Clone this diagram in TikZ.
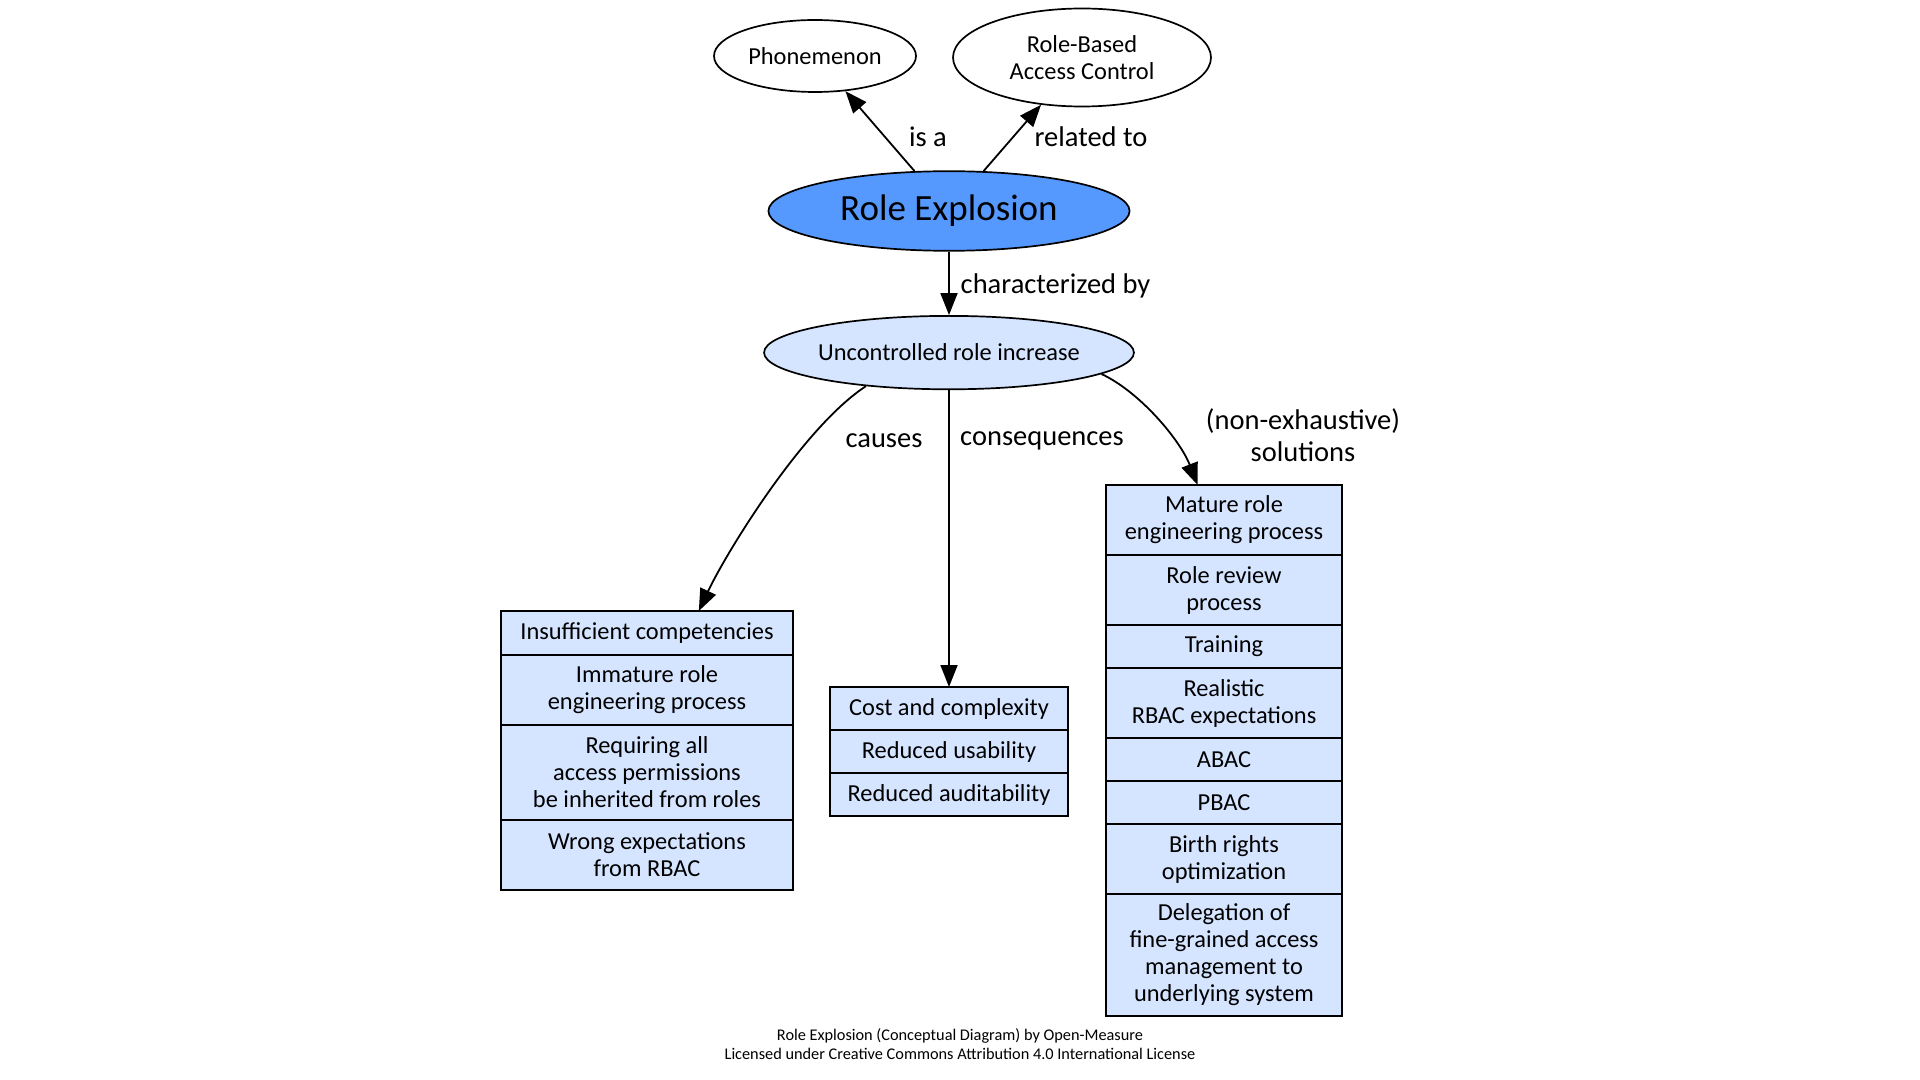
\documentclass[tikz,border=0pt]{standalone}
\usepackage{fontspec}
\setmainfont{Carlito}
\usetikzlibrary{arrows.meta,shapes.geometric}
\definecolor{reblue}{RGB}{85,153,255}
\definecolor{cellblue}{RGB}{213,229,255}
\newcommand\myNodeFont{\fontsize{12.2pt}{13.5pt}\selectfont}
\newcommand\myBigFont{\fontsize{18.5pt}{20pt}\selectfont}
\newcommand\myEdgeFont{\fontsize{14.25pt}{15.9pt}\selectfont}
\newcommand\myCapFont{\fontsize{8.15pt}{9.2pt}\selectfont}
\begin{document}
\begin{tikzpicture}[x=0.5pt,y=-0.5pt,
  oval/.style={ellipse, draw, line width=0.85pt, inner sep=0pt, align=center, font=\myNodeFont},
  cell/.style={rectangle, draw, line width=0.85pt, fill=cellblue, inner sep=0pt, outer sep=0pt, align=center, font=\myNodeFont},
  causecell/.style={cell, minimum width=146.25pt},
  conscell/.style={cell, minimum width=119pt},
  solcell/.style={cell, minimum width=118pt},
  elabel/.style={font=\myEdgeFont, align=center, inner sep=0pt},
  conn/.style={line width=0.9pt, -{Triangle[length=11pt,width=8.5pt]}}
]
\useasboundingbox (0,0) rectangle (1920,1080);

% top ellipses
\node[oval, minimum width=101pt, minimum height=36pt] (ph) at (815,56) {Phonemenon};
\node[oval, minimum width=129pt, minimum height=49pt] (rbac) at (1082,57.5) {Role-Based\\Access Control};
\node[oval, fill=reblue, minimum width=180.6pt, minimum height=39.8pt, font=\myBigFont] (re) at (949,211) {Role Explosion};
\node[oval, fill=cellblue, minimum width=181.5pt, minimum height=36.7pt] (uri) at (949,352.6) {Uncontrolled role increase};

% causes
\node[causecell, minimum height=22pt, anchor=north] (c1) at (647,611) {Insufficient competencies};
\node[causecell, minimum height=35pt, anchor=north] (c2) at (c1.south) {Immature role\\engineering process};
\node[causecell, minimum height=47.5pt, anchor=north] (c3) at (c2.south) {Requiring all\\access permissions\\be inherited from roles};
\node[causecell, minimum height=35pt, anchor=north] (c4) at (c3.south) {Wrong expectations\\from RBAC};

% consequences
\node[conscell, minimum height=21.5pt, anchor=north] (q1) at (949,687) {Cost and complexity};
\node[conscell, minimum height=21.5pt, anchor=north] (q2) at (q1.south) {Reduced usability};
\node[conscell, minimum height=21.5pt, anchor=north] (q3) at (q2.south) {Reduced auditability};

% solutions
\node[solcell, minimum height=35pt, anchor=north] (s1) at (1224,485) {Mature role\\engineering process};
\node[solcell, minimum height=35pt, anchor=north] (s2) at (s1.south) {Role review\\process};
\node[solcell, minimum height=21.5pt, anchor=north] (s3) at (s2.south) {Training};
\node[solcell, minimum height=35pt, anchor=north] (s4) at (s3.south) {Realistic\\RBAC expectations};
\node[solcell, minimum height=21.5pt, anchor=north] (s5) at (s4.south) {ABAC};
\node[solcell, minimum height=21.5pt, anchor=north] (s6) at (s5.south) {PBAC};
\node[solcell, minimum height=35pt, anchor=north] (s7) at (s6.south) {Birth rights\\optimization};
\node[solcell, minimum height=61pt, anchor=north] (s8) at (s7.south) {Delegation of\\fine-grained access\\management to\\underlying system};

% connectors
\draw[conn] (re) -- (ph);
\draw[conn] (re) -- (rbac);
\draw[conn] (re) -- (uri);
\draw[conn] (uri.202) .. controls (802,428) and (725,555) .. (c1.23.3);
\draw[conn] (uri) -- (q1);
\draw[conn] (uri.-8.4) .. controls (1140,392) and (1180,440) .. (s1.127);

% edge labels
\node[elabel] (lisa) at (928,137) {is a};
\node[elabel] (lrel) at (1091,137) {related to};
\node[elabel] (lchar) at (1055.5,285.5) {characterized by};
\node[elabel] (lcause) at (884,441) {causes};
\node[elabel] (lcons) at (1042,441) {consequences};
\node[elabel] (lsol) at (1303,435) {(non-exhaustive)\\solutions};

% caption
\node[font=\myCapFont, align=center, inner sep=0pt] (cap) at (960,1044) {Role Explosion (Conceptual Diagram) by Open-Measure\\Licensed under Creative Commons Attribution 4.0 International License};
\end{tikzpicture}
\end{document}
